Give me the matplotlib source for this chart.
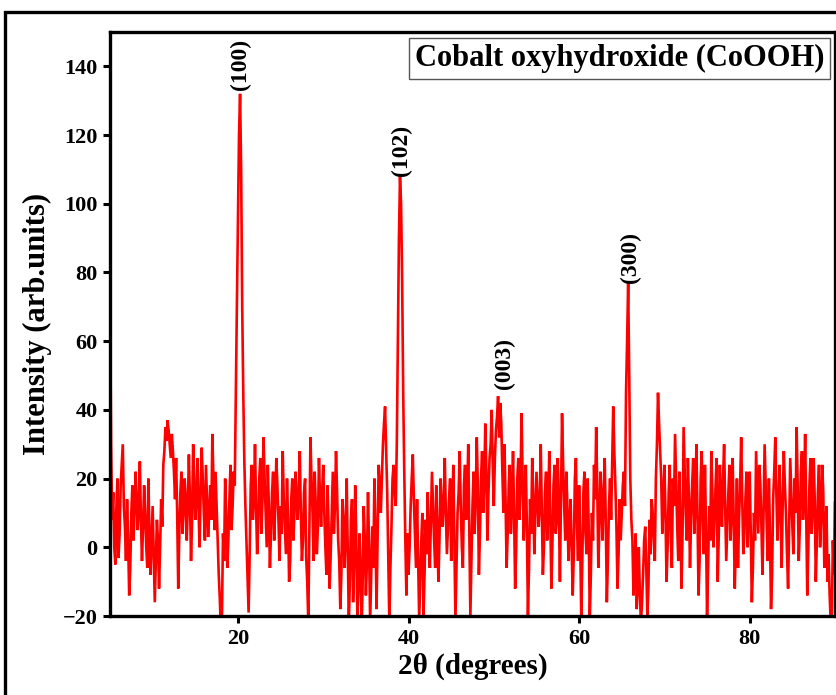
import numpy as np
import matplotlib
matplotlib.use("Agg")
import matplotlib.pyplot as plt
from matplotlib.patches import Rectangle

# XRD pattern of cobalt oxyhydroxide, 2-theta 5..90 deg, 0.125 deg step.
# Each 5-degree block holds the readings on the quarter-degree grid and the
# readings taken half-way between them.
two_theta_start = 5.0
two_theta_stop = 90.0

seg_05_10 = [77, 8, 0, 12, -3, 18, 30, 6, 14, -14, 10, 2, 22, 5, 25, -4, 18, 0, 20, -8]
mid_05_10 = [30, 16, -5, 20, 4, 24, 12, -4, 2, -6, 18, 10, 14, 12, 8, 6, 10, -6, 4, 2]
seg_10_15 = [12, -16, 8, -12, 14, 24, 35, 37, 30, 33, 22, 26, -12, 16, 4, 20, 2, 27, -4, 30]
mid_10_15 = [-2, -4, 2, 0, 6, 28, 31, 34, 26, 28, 14, 10, 4, 22, 10, 14, 12, 14, 8, 18]
seg_15_20 = [8, 26, 0, 29, 10, 24, 3, 18, 33, 5, 12, -8, -24, 4, 20, -6, 14, 5, 22, 45]
mid_15_20 = [14, 12, 16, 20, 2, 14, 10, 8, 20, 22, 2, -15, -20, -4, 10, 2, 24, 12, 18, 70]
seg_20_25 = [95, 132, 70, 25, 2, -19, 18, 8, 30, -2, 20, 4, 32, 10, 24, -6, 16, 2, 26, 8]
mid_20_25 = [120, 110, 45, 12, -8, -2, 24, 14, 12, 6, 26, 14, 20, 0, 12, 4, 22, 12, 18, -4]
seg_25_30 = [12, 28, 6, 20, -10, 14, 2, 22, 8, 28, -4, 16, -3, -22, 32, 10, 22, -2, 26, 6]
mid_25_30 = [4, 14, -2, 8, -4, 20, 10, 14, 16, 10, 2, 20, -10, 4, 20, -4, 12, 6, 14, 16]
seg_30_35 = [24, 0, 18, -12, 10, 4, 28, 2, -18, 14, -6, 20, -22, 8, -16, 18, -20, 4, -24, 12]
mid_30_35 = [10, -8, 6, -2, 22, 12, 16, -4, -8, 8, 4, -2, -10, 14, -4, 2, -12, -6, -10, 2]
seg_35_40 = [-14, 16, -22, 6, 20, -18, 24, 10, 30, 41, 16, -22, 6, 24, 12, 60, 108, 78, 22, -14]
mid_35_40 = [-4, 0, -8, -6, 4, 2, 18, 20, 36, 28, -4, -6, 20, 16, 30, 90, 100, 45, 2, 4]
seg_40_45 = [-8, 12, 27, 4, 14, -21, 2, -20, 8, 16, -6, 22, 2, 18, -10, 20, 6, 26, -2, 14]
mid_40_45 = [0, 20, 14, -6, -4, -10, 10, -8, -2, 4, 8, 12, -6, 6, 2, 12, 14, 10, 6, 20]
seg_45_50 = [-4, 24, -21, 10, 28, 0, 18, 8, 30, -20, 12, 4, 32, -8, 20, 10, 36, 2, 26, 40]
mid_45_50 = [8, 2, -6, 16, 12, -6, 24, 14, 6, -4, 22, 14, 18, 4, 28, 18, 22, 16, 30, 24]
seg_50_55 = [12, 34, 44, 42, 22, 30, -6, 18, 4, 28, -12, 20, 8, 39, 2, 24, -20, 14, 26, -2]
mid_50_55 = [26, 38, 32, 36, 10, 14, 4, 24, 12, 10, 0, 26, 18, 20, 10, 6, -6, 4, 14, 10]
seg_55_60 = [22, 6, 30, -8, 16, 2, 28, -12, 18, 4, 26, -10, 39, 12, 22, -4, 14, -14, 20, 6]
mid_55_60 = [14, 12, 10, 0, 22, 10, 8, 2, 24, 8, 12, 14, 24, 2, 12, 6, 0, -2, 26, -4]
seg_60_65 = [18, -20, 16, 4, 20, -21, 10, 24, 35, -6, 22, 2, 26, -16, 12, 8, 41, 18, -12, 14]
mid_60_65 = [2, -4, 22, -2, 6, -8, 2, 14, 18, 6, 14, 16, 8, -4, 20, 24, 28, 6, -2, 2]
seg_65_70 = [10, 22, 45, 77, 20, 2, -6, -18, 0, -22, -8, 6, -20, 8, 14, 2, 20, 45, 28, 4]
mid_65_70 = [18, 12, 60, 50, 8, -14, 4, -10, -14, -16, 2, -6, -12, -2, 10, -4, 30, 36, 20, 12]
seg_70_75 = [24, -10, 16, 2, 20, 33, 6, 22, -12, 35, 10, 26, -6, 18, 4, 30, -14, 20, 8, 24]
mid_70_75 = [10, 0, 24, -6, 12, 20, -4, 8, 4, 22, 2, 14, 8, 26, 12, 10, -4, 28, -2, 6]
seg_75_80 = [-20, 12, 28, 0, 18, -10, 24, 6, 30, -4, 16, 2, 26, -12, 20, 8, 32, -2, 14, 0]
mid_75_80 = [-6, 2, 16, 8, 26, 4, 14, 20, 12, 6, 24, 10, 8, 2, -6, 18, 14, 4, 22, 10]
seg_80_85 = [22, -16, 10, 28, 4, 18, -8, 30, 6, 20, -18, 14, 32, 2, 24, -6, 28, 10, -12, 26]
mid_80_85 = [4, -6, 2, 16, 24, 6, 10, 18, -4, 4, -8, 22, 16, 12, 8, 14, 18, -2, 6, 16]
seg_85_90 = [6, 20, 35, -4, 22, 8, 33, -14, 18, 4, 26, -10, 16, 0, 24, -6, 12, -2, -22, 2, 13]
mid_85_90 = [-2, 10, 18, 6, 28, 16, 10, 0, 26, 10, 14, 2, 24, 8, 16, 4, -10, -14, -20, -8]

grid_values = (seg_05_10 + seg_10_15 + seg_15_20 + seg_20_25 + seg_25_30 + seg_30_35
               + seg_35_40 + seg_40_45 + seg_45_50 + seg_50_55 + seg_55_60 + seg_60_65
               + seg_65_70 + seg_70_75 + seg_75_80 + seg_80_85 + seg_85_90)
half_values = (mid_05_10 + mid_10_15 + mid_15_20 + mid_20_25 + mid_25_30 + mid_30_35
               + mid_35_40 + mid_40_45 + mid_45_50 + mid_50_55 + mid_55_60 + mid_60_65
               + mid_65_70 + mid_70_75 + mid_75_80 + mid_80_85 + mid_85_90)

intensity = np.empty(len(grid_values) + len(half_values))
intensity[0::2] = grid_values
intensity[1::2] = half_values
two_theta = np.linspace(two_theta_start, two_theta_stop, len(intensity))

# Miller-index annotations
hkl_labels = ["(100)", "(102)", "(003)", "(300)"]
hkl_pos = [20.3, 39.2, 51.2, 66.0]
hkl_height = [133, 108, 46, 77]

x_ticks = [20, 40, 60, 80]
y_ticks = [-20, 0, 20, 40, 60, 80, 100, 120, 140]

serif = ["Liberation Serif", "DejaVu Serif"]
plt.rcParams["font.family"] = serif
plt.rcParams["font.weight"] = "bold"

W, H = 837, 695
fig = plt.figure(figsize=(W / 100, H / 100), dpi=100)
ax = fig.add_axes([110 / W, 1 - 616 / H, (835 - 110) / W, (616 - 32) / H])

ax.plot(two_theta, intensity, color="#ff0000", lw=1.9, solid_joinstyle="miter")

ax.set_xlim(two_theta_start, two_theta_stop)
ax.set_ylim(-20, 150)
ax.set_xticks(x_ticks)
ax.set_yticks(y_ticks)
ax.set_yticklabels(["\u221220" if v < 0 else str(v) for v in y_ticks])
ax.tick_params(axis="both", which="major", direction="out", length=5, width=2.2,
               labelsize=16, pad=4)
ax.tick_params(top=False, right=False)
for lab in ax.get_xticklabels() + ax.get_yticklabels():
    lab.set_fontweight("bold")
for sp in ax.spines.values():
    sp.set_linewidth(2.4)

ax.set_xlabel("2\u03b8 (degrees)", fontsize=21, fontweight="bold", labelpad=3)
ax.set_ylabel("Intensity (arb.units)", fontsize=22, fontweight="bold", labelpad=8)

for lab, xp, yp in zip(hkl_labels, hkl_pos, hkl_height):
    ax.text(xp, yp, lab, rotation=90, ha="center", va="bottom",
            fontsize=17, fontweight="bold")

ax.text(0.985, 0.979, "Cobalt oxyhydroxide (CoOOH)", transform=ax.transAxes,
        ha="right", va="top", fontsize=22, fontweight="bold",
        bbox=dict(boxstyle="square,pad=0.2", facecolor="white",
                  edgecolor="#555555", linewidth=1.0))

# outer frame around the whole figure (right and bottom edges run off the canvas)
frame_top = 1 - 12 / H
fig.patches.append(Rectangle((5 / W, -0.2), 1.2, frame_top + 0.2,
                             transform=fig.transFigure, fill=False,
                             edgecolor="black", linewidth=2.4))

fig.savefig("out.png", dpi=100)
